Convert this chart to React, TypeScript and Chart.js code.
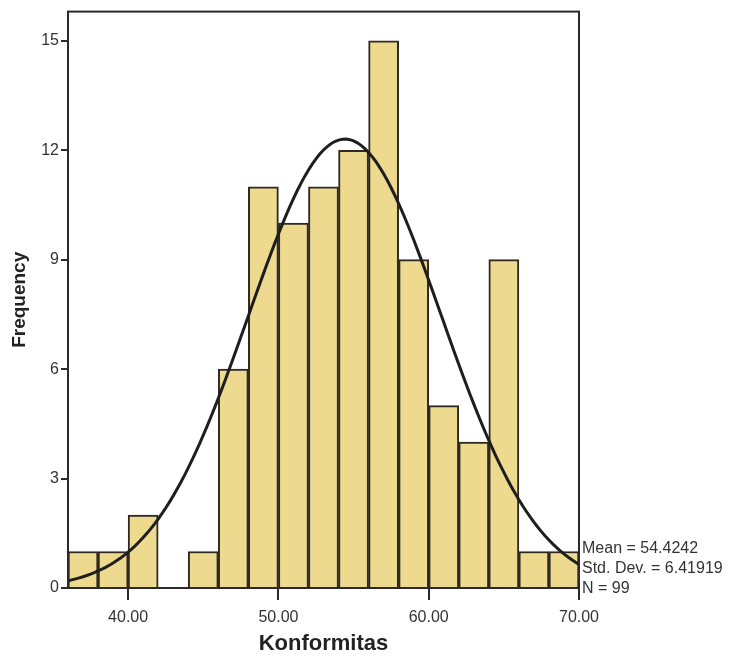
import React, { useEffect, useRef } from "react";
import { Chart, registerables } from "chart.js";

Chart.register(...registerables);

// Histogram bins (width 2) from 36 to 70
const binStarts = [36, 38, 40, 42, 44, 46, 48, 50, 52, 54, 56, 58, 60, 62, 64, 66, 68];
const frequencies = [1, 1, 2, 0, 1, 6, 11, 10, 11, 12, 15, 9, 5, 4, 9, 1, 1];
const binWidth = 2;
const xTicks = [40, 50, 60, 70];
const yTicks = [0, 3, 6, 9, 12, 15];
const statMean = 54.4242;
const statSD = 6.41919;
const statN = 99;
const statLines = ["Mean = 54.4242", "Std. Dev. = 6.41919", "N = 99"];

const FONT = "'Liberation Sans', Arial, sans-serif";

export default function App() {
  const ref = useRef<HTMLCanvasElement | null>(null);

  useEffect(() => {
    if (!ref.current) return;
    const barData = binStarts.map((s, i) => ({ x: s + binWidth / 2, y: frequencies[i] }));
    const curve: { x: number; y: number }[] = [];
    for (let k = 0; k <= 136; k++) {
      const x = 36 + k * 0.25;
      const z = (x - statMean) / statSD;
      curve.push({ x, y: (statN * binWidth) / (statSD * Math.sqrt(2 * Math.PI)) * Math.exp(-0.5 * z * z) });
    }

    const framePlugin = {
      id: "frame",
      afterDatasetsDraw(chart: any) {
        const { ctx, chartArea } = chart;
        ctx.save();
        ctx.strokeStyle = "#2a2a2a";
        ctx.lineWidth = 2;
        ctx.strokeRect(chartArea.left, chartArea.top, chartArea.right - chartArea.left, chartArea.bottom - chartArea.top);
        ctx.fillStyle = "#333";
        ctx.font = `16px ${FONT}`;
        ctx.textBaseline = "middle";
        ctx.textAlign = "left";
        statLines.forEach((t, i) => {
          ctx.fillText(t, chartArea.right + 3, 549 + i * 20);
        });
        ctx.restore();
      },
    };

    const chart = new Chart(ref.current, {
      type: "bar",
      data: {
        datasets: [
          {
            type: "line",
            data: curve,
            borderColor: "#1e1e1e",
            borderWidth: 3,
            pointRadius: 0,
            fill: false,
            tension: 0,
            order: 0,
          } as any,
          {
            type: "bar",
            data: barData,
            backgroundColor: "#EDDA8E",
            borderColor: "#2e2a22",
            borderWidth: 2,
            barPercentage: 1,
            categoryPercentage: 1,
            order: 1,
          } as any,
        ],
      },
      options: {
        responsive: false,
        animation: false,
        layout: { padding: { top: 8, right: 156, bottom: 0, left: 0 } },
        plugins: { legend: { display: false }, tooltip: { enabled: false } },
        scales: {
          x: {
            type: "linear",
            min: 36,
            max: 70,
            offset: false,
            afterBuildTicks: (s: any) => {
              s.ticks = xTicks.map((v) => ({ value: v }));
            },
            afterFit: (s: any) => {
              s.height = 77;
            },
            ticks: {
              callback: (v: any) => Number(v).toFixed(2),
              font: { family: FONT, size: 16 },
              color: "#333",
              padding: 8,
              maxRotation: 0,
            },
            grid: { offset: false, drawOnChartArea: false, drawTicks: true, tickLength: 12, color: "#2a2a2a", lineWidth: 2 },
            border: { display: false },
            title: {
              display: true,
              text: "Konformitas",
              font: { family: FONT, size: 22, weight: "bold" },
              color: "#222",
              padding: { top: 0, bottom: 8 },
            },
          },
          y: {
            min: 0,
            max: 15.8,
            afterBuildTicks: (s: any) => {
              s.ticks = yTicks.map((v) => ({ value: v }));
            },
            afterFit: (s: any) => {
              s.width = 68;
            },
            ticks: {
              font: { family: FONT, size: 16 },
              color: "#333",
              padding: 2,
            },
            grid: { drawOnChartArea: false, drawTicks: true, tickLength: 7, color: "#2a2a2a", lineWidth: 2 },
            border: { display: false },
            title: {
              display: true,
              text: "Frequency",
              font: { family: FONT, size: 19, weight: "bold" },
              color: "#222",
              padding: { top: 8, bottom: 0 },
            },
          },
        },
      },
      plugins: [framePlugin],
    });
    return () => chart.destroy();
  }, []);

  return (
    <div style={{ position: "absolute", left: 0, top: 0, width: 735, height: 665, background: "#fff" }}>
      <canvas ref={ref} width={735} height={665} />
    </div>
  );
}
